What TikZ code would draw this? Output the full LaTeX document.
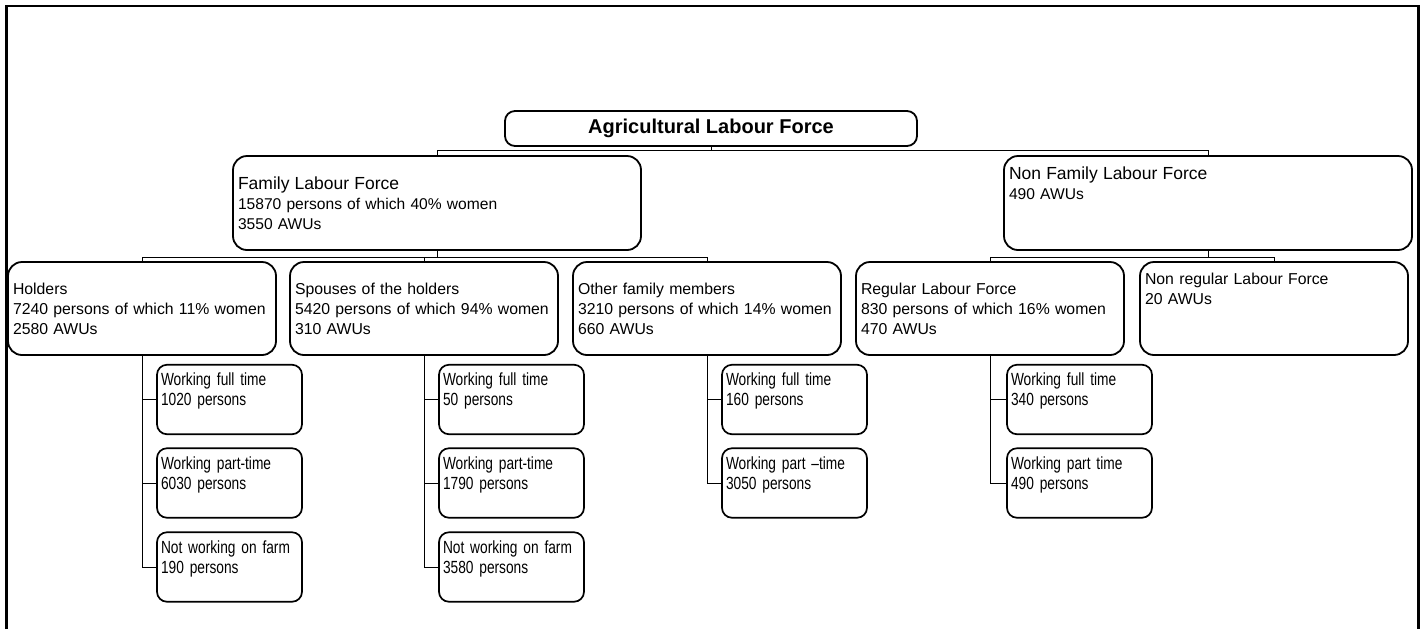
\documentclass[tikz,border=0pt]{standalone}
\usepackage{fontspec}
\setmainfont{Liberation Sans}
\newfontfamily\narrowfont[FakeStretch=0.78]{Liberation Sans}
\usetikzlibrary{positioning}

\begin{document}
\begin{tikzpicture}[
		x=0.5pt, y=-0.5pt,
		every node/.style={inner xsep=2.5pt, inner ysep=0pt},
		top/.style={draw, line width=0.9pt, rounded corners=5pt, minimum width=206pt, minimum height=17.5pt,
			font=\bfseries\fontsize{10}{12}\selectfont},
		group/.style={draw, line width=0.9pt, rounded corners=7pt, text width=199pt, minimum height=47pt,
			align=left, font=\fontsize{7.8}{10}\selectfont},
		unit/.style={draw, line width=0.9pt, rounded corners=7pt, text width=129pt, minimum height=46.5pt,
			align=left, font=\fontsize{7.9}{10}\selectfont},
		leaf/.style={draw, line width=0.85pt, rounded corners=5pt, inner xsep=2pt, text width=68.5pt, minimum height=34.75pt,
			align=left, font=\narrowfont\fontsize{8.8}{10}\selectfont},
		link/.style={line width=0.5pt}
		]
	
		\useasboundingbox (0,0) rectangle (1425,629);
		\draw[line width=1.1pt] (6.5,629) -- (6.5,6) -- (1418.5,6) -- (1418.5,629);
	
		% top of the tree
		\node[top] (root) at (711, 128.5) {Agricultural Labour Force};
		\node[group] (fam) at (437, 203) {{\fontsize{8.75}{10}\selectfont Family Labour Force}\\15870 persons of which 40\% women\\3550 AWUs};
		\node[group] (nonfam) at (1208, 203) {{\fontsize{8.75}{10}\selectfont Non Family Labour Force}\\490 AWUs\\~\\~};
	
		\draw[link] (root.south) -- ++(0,4) -| (fam.north);
		\draw[link] (root.south) -- ++(0,4) -| (nonfam.north);
	
		% second level
		\node[unit] (hold) at (142, 308.5) {Holders\\7240 persons of which 11\% women\\2580 AWUs};
		\node[unit] (spou) at (424, 308.5) {Spouses of the holders\\5420 persons of which 94\% women\\310 AWUs};
		\node[unit] (othr) at (707, 308.5) {Other family members\\3210 persons of which 14\% women\\660 AWUs};
		\node[unit] (regl) at (990, 308.5) {Regular Labour Force\\830 persons of which 16\% women\\470 AWUs};
		\node[unit] (nreg) at (1274, 308.5) {Non regular Labour Force\\20 AWUs\\~\\~};
	
		\draw[link] (fam.south) -- ++(0,7) -| (hold.north);
		\draw[link] (fam.south) -- ++(0,7) -| (spou.north);
		\draw[link] (fam.south) -- ++(0,7) -| (othr.north);
		\draw[link] (nonfam.south) -- ++(0,7) -| (regl.north);
		\draw[link] (nonfam.south) -- ++(0,7) -| (nreg.north);
	
		% third level
		\node[leaf] (hold1) at (229.5, 399.5) {Working full time\\1020 persons\\~};
		\node[leaf] (hold2) at (229.5, 483) {Working part-time\\6030 persons\\~};
		\node[leaf] (hold3) at (229.5, 567) {Not working on farm\\190 persons\\~};
		\node[leaf] (spou1) at (511.5, 399.5) {Working full time\\50 persons\\~};
		\node[leaf] (spou2) at (511.5, 483) {Working part-time\\1790 persons\\~};
		\node[leaf] (spou3) at (511.5, 567) {Not working on farm\\3580 persons\\~};
		\node[leaf] (othr1) at (794.5, 399.5) {Working full time\\160 persons\\~};
		\node[leaf] (othr2) at (794.5, 483) {Working part –time\\3050 persons\\~};
		\node[leaf] (regl1) at (1079.5, 399.5) {Working full time\\340 persons\\~};
		\node[leaf] (regl2) at (1079.5, 483) {Working part time\\490 persons\\~};
	
		\foreach \p/\c in {hold/hold1, hold/hold2, hold/hold3, spou/spou1, spou/spou2, spou/spou3,
			othr/othr1, othr/othr2, regl/regl1, regl/regl2}
			\draw[link] (\p.south) |- (\c.west);
	
	\end{tikzpicture}
\end{document}
